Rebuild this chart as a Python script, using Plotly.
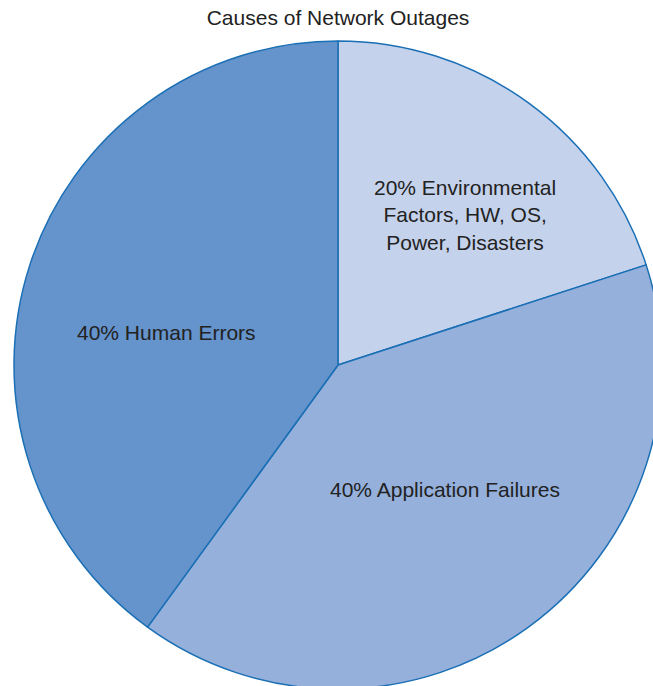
import plotly.graph_objects as go

labels = ["Environmental Factors, HW, OS, Power, Disasters", "Application Failures", "Human Errors"]
values = [20, 40, 40]
texts = ["20% Environmental<br>Factors, HW, OS,<br>Power, Disasters",
         "40% Application Failures",
         "40% Human Errors"]
colors = ["#c5d2eb", "#94b0db", "#6593cb"]

W, H = 676, 730
FONT = "Liberation Sans, Arial, sans-serif"

fig = go.Figure(go.Pie(
    labels=labels,
    values=values,
    textinfo="none",
    sort=False,
    direction="clockwise",
    rotation=0,
    marker=dict(colors=colors, line=dict(color="#1a6fb5", width=1.5)),
    hoverinfo="label+percent",
))

# label placement (paper coordinates) inside each slice
label_pos = [(0.696, 0.7315), (0.665, 0.3086), (0.2346, 0.5494)]
for t, (x, y) in zip(texts, label_pos):
    fig.add_annotation(text=t, x=x, y=y, xref="paper", yref="paper",
                       xanchor="center", yanchor="middle", showarrow=False,
                       align="center",
                       font=dict(family=FONT, size=21, color="#222222"))

fig.update_layout(
    width=W, height=H,
    margin=dict(l=14, r=14, t=41, b=41),
    showlegend=False,
    paper_bgcolor="white",
    title=dict(text="Causes of Network Outages", x=0.5, xanchor="center",
               xref="container", y=1 - 10 / H, yref="container", yanchor="top",
               font=dict(family=FONT, size=21, color="#222222")),
)

fig.write_html("out.html", config={"displayModeBar": False},
               post_script="document.body.style.margin='0';document.body.style.overflow='hidden';")
